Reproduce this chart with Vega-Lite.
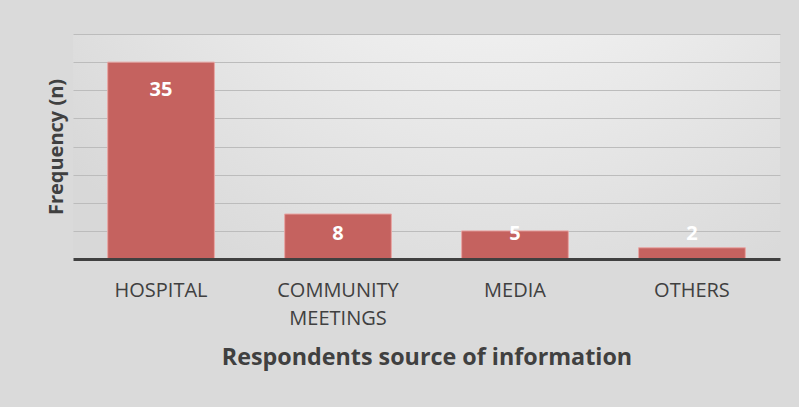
{
  "$schema": "https://vega.github.io/schema/vega-lite/v6.json",
  "width": 707,
  "height": 225,
  "autosize": {"type": "none"},
  "padding": {"left": 73, "top": 34, "right": 19, "bottom": 148},
  "background": "#dadada",
  "config": {
    "font": "Open Sans",
    "axisY": {
      "titleFontSize": 20,
      "titleFontWeight": "bold",
      "titleColor": "#404040",
      "titlePadding": 7,
      "labels": false,
      "ticks": false,
      "domain": false,
      "grid": true,
      "gridColor": "#bcbcbc",
      "gridWidth": 1.2
    },
    "view": {
      "stroke": null,
      "fill": {
        "gradient": "radial",
        "x1": 0.6, "y1": 0, "r1": 0,
        "x2": 0.6, "y2": 0, "r2": 0.8,
        "stops": [
          {"offset": 0, "color": "#ffffff"},
          {"offset": 1, "color": "#d8d8d8"}
        ]
      }
    }
  },
  "data": {
    "values": [
      {"source": "HOSPITAL", "n": 35},
      {"source": "COMMUNITY MEETINGS", "n": 8},
      {"source": "MEDIA", "n": 5},
      {"source": "OTHERS", "n": 2}
    ]
  },
  "encoding": {
    "x": {
      "field": "source",
      "type": "nominal",
      "sort": null,
      "scale": {"paddingInner": 0.397, "paddingOuter": 0.196},
      "axis": {
        "title": "Respondents source of information",
        "titleFont": "Open Sans",
        "titleFontSize": 23.3,
        "titleFontWeight": "bold",
        "titleColor": "#404040",
        "titlePadding": 18,
        "labelAngle": 0,
        "labelFontSize": 20,
        "labelColor": "#404040",
        "labelPadding": 21,
        "labelLineHeight": 28,
        "labelExpr": "datum.label == 'COMMUNITY MEETINGS' ? ['COMMUNITY', 'MEETINGS'] : datum.label",
        "ticks": false,
        "domain": true,
        "domainColor": "#404040",
        "domainWidth": 3,
        "grid": false,
        "zindex": 1
      }
    }
  },
  "layer": [
    {
      "mark": {"type": "bar", "color": "#c5625f", "stroke": "#e8a6a4", "strokeWidth": 1},
      "encoding": {
        "y": {
          "field": "n",
          "type": "quantitative",
          "scale": {"domain": [0, 40]},
          "axis": {"title": "Frequency (n)", "values": [5, 10, 15, 20, 25, 30, 35, 40]}
        }
      }
    },
    {
      "transform": [{"calculate": "datum.n >= 10 ? datum.n - 5 : 4.4", "as": "labelPos"}],
      "mark": {"type": "text", "color": "#ffffff", "fontWeight": "bold", "fontSize": 20, "baseline": "middle"},
      "encoding": {
        "y": {"field": "labelPos", "type": "quantitative", "axis": {"title": "Frequency (n)", "values": [5, 10, 15, 20, 25, 30, 35, 40]}},
        "text": {"field": "n", "type": "quantitative"}
      }
    }
  ]
}
